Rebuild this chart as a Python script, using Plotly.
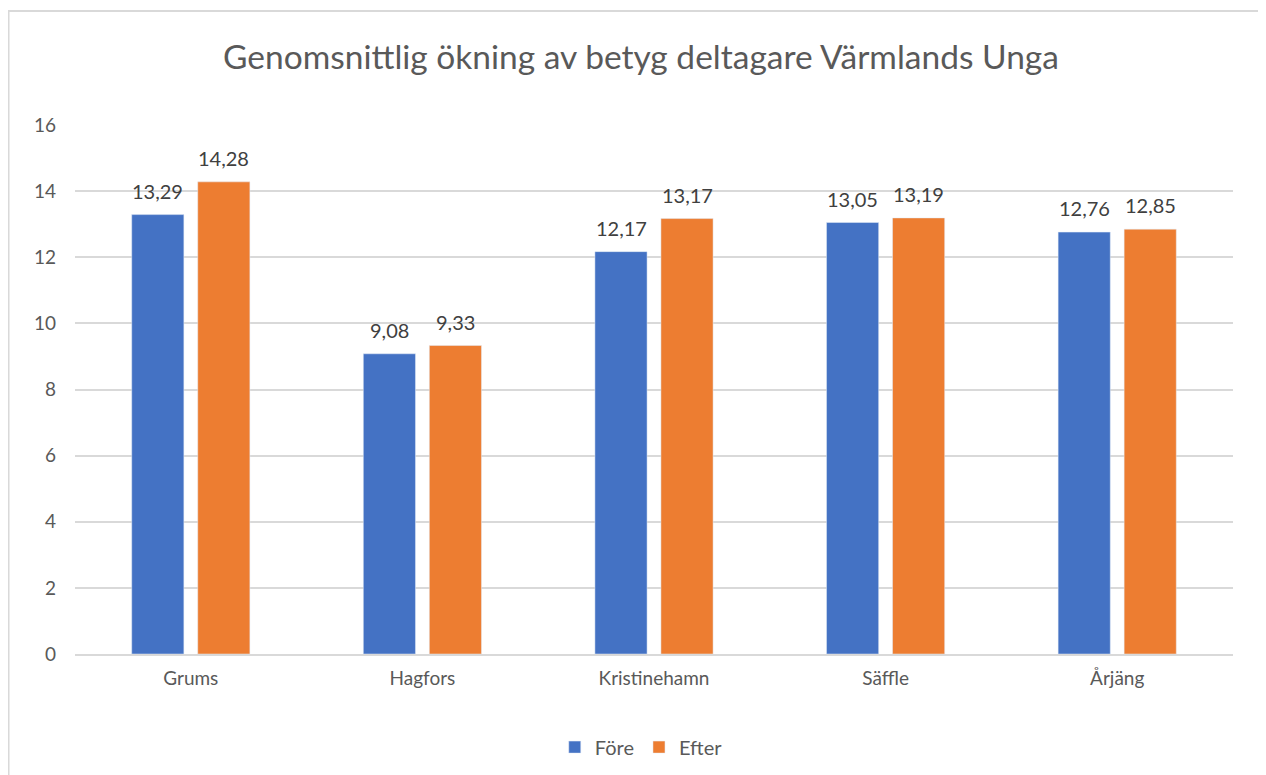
import plotly.graph_objects as go

# data
kommuner = ["Grums", "Hagfors", "Kristinehamn", "Säffle", "Årjäng"]
fore = [13.29, 9.08, 12.17, 13.05, 12.76]
efter = [14.28, 9.33, 13.17, 13.19, 12.85]
y_ticks = [0, 2, 4, 6, 8, 10, 12, 14, 16]

font = "Lato, 'Open Sans', sans-serif"
grey = "#595959"

def label(v):
    return f"{v:.2f}".replace(".", ",")

fig = go.Figure()
fig.add_trace(go.Bar(x=kommuner, y=fore, name="Före", marker_color="#4472C4"))
fig.add_trace(go.Bar(x=kommuner, y=efter, name="Efter", marker_color="#ED7D31"))

# value labels, lifted a bit above the bar tops like Excel does
for serie, shift in ((fore, -33), (efter, 33)):
    for k, v in zip(kommuner, serie):
        fig.add_annotation(x=k, y=v, text=label(v), showarrow=False,
                           xshift=shift, yshift=10, yanchor="bottom",
                           font=dict(size=20, color="#404040", family=font))

fig.update_layout(
    width=1266, height=775,
    paper_bgcolor="white", plot_bgcolor="white",
    font=dict(family=font, color=grey, size=19),
    title=dict(text="Genomsnittlig ökning av betyg deltagare Värmlands Unga",
               x=0.5, xanchor="center", y=0.937, yanchor="middle",
               font=dict(size=33.5, color=grey, family=font)),
    margin=dict(l=67, r=41, t=117, b=129),
    barmode="group", bargap=0.43, bargroupgap=0.21,
    showlegend=True,
    legend=dict(orientation="h", x=0.489, xanchor="center", y=-0.176, yanchor="middle",
                font=dict(size=20, color=grey), itemwidth=30),
    xaxis=dict(showgrid=False, showline=True, linecolor="#D9D9D9", linewidth=1.5,
               ticks="", ticklabelstandoff=6, tickfont=dict(size=19, color=grey)),
    yaxis=dict(range=[0, 16], tickvals=y_ticks, showgrid=True, gridcolor="#D9D9D9",
               gridwidth=1.5, zeroline=False, showline=False, ticks="",
               ticklabelstandoff=18, tickfont=dict(size=19, color=grey)),
)

# light chart-area border like the Excel frame
fig.add_shape(type="rect", xref="paper", yref="paper",
              x0=-0.0574, x1=1.0259, y0=-0.26, y1=1.2155,
              line=dict(color="#D9D9D9", width=2))

fig.write_html("out.html")
